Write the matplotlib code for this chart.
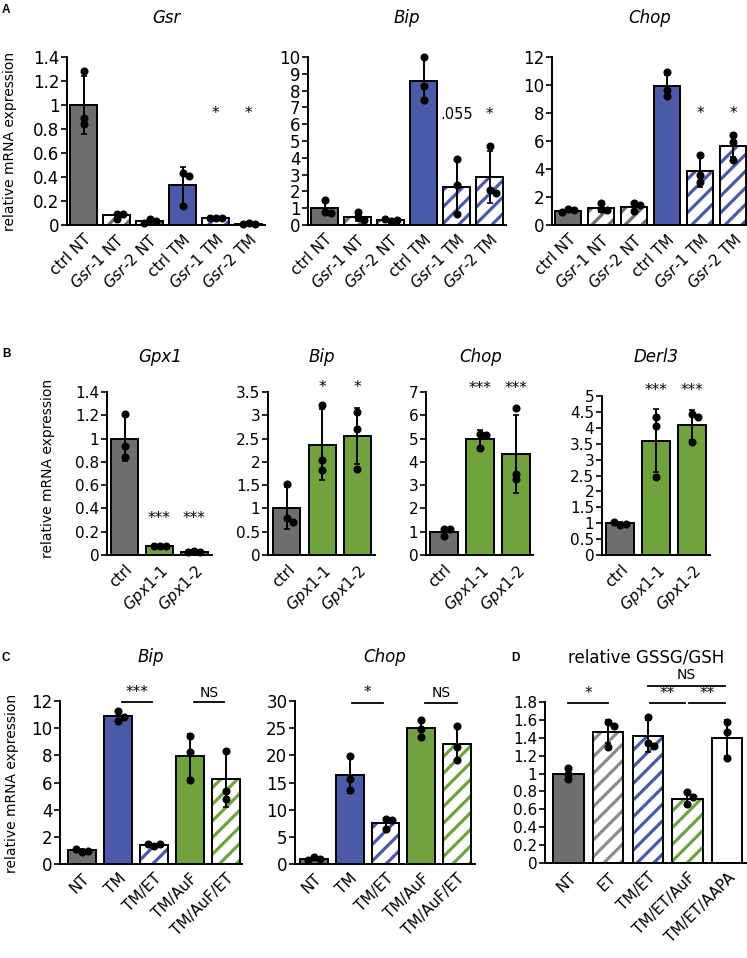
import numpy as np
import matplotlib
matplotlib.use('Agg')
import matplotlib.pyplot as plt

plt.rcParams['font.family'] = ['DejaVu Sans']
plt.rcParams['mathtext.fontset'] = 'dejavusans'
plt.rcParams['hatch.linewidth'] = 2.3

# ---------------- data ----------------
a_labels = ['ctrl NT', r'$\it{Gsr}$-1 NT', r'$\it{Gsr}$-2 NT',
            'ctrl TM', r'$\it{Gsr}$-1 TM', r'$\it{Gsr}$-2 TM']
a_styles = ['gray', 'hgray', 'hgray', 'blue', 'hblue', 'hblue']

gsr_mean = [1.00, 0.08, 0.03, 0.33, 0.06, 0.01]
gsr_sd = [0.245, 0.02, 0.02, 0.155, 0.005, 0.005]
gsr_pts = [[1.28, 0.89, 0.84], [0.095, 0.095, 0.05], [0.05, 0.03, 0.015],
           [0.43, 0.41, 0.16], [0.06, 0.06, 0.06], [0.015, 0.005, 0.01]]

bipA_mean = [1.0, 0.5, 0.3, 8.6, 2.28, 2.85]
bipA_sd = [0.37, 0.25, 0.08, 1.3, 1.58, 1.55]
bipA_pts = [[1.5, 0.75, 0.73], [0.8, 0.45, 0.3], [0.22, 0.3, 0.38],
            [10.0, 8.26, 7.43], [3.9, 2.36, 0.63], [4.7, 2.1, 1.9]]

chopA_mean = [1.0, 1.2, 1.3, 9.9, 3.85, 5.65]
chopA_sd = [0.08, 0.25, 0.3, 0.85, 1.1, 0.78]
chopA_pts = [[1.15, 1.05, 0.9], [1.55, 1.15, 1.05], [1.6, 1.45, 1.0],
             [10.9, 9.65, 9.2], [5.0, 3.55, 3.1], [6.45, 5.95, 4.65]]

b_labels = ['ctrl', r'$\it{Gpx1}$-1', r'$\it{Gpx1}$-2']
b_styles = ['gray', 'green', 'green']

gpx1_mean = [1.0, 0.075, 0.03]
gpx1_sd = [0.19, 0.005, 0.005]
gpx1_pts = [[1.21, 0.935, 0.84], [0.075, 0.078, 0.075], [0.035, 0.025, 0.03]]

bipB_mean = [1.0, 2.37, 2.55]
bipB_sd = [0.45, 0.77, 0.6]
bipB_pts = [[1.52, 0.79, 0.71], [3.23, 2.05, 1.82], [3.07, 2.7, 1.85]]

chopB_mean = [1.0, 5.0, 4.35]
chopB_sd = [0.18, 0.35, 1.68]
chopB_pts = [[1.12, 1.1, 0.8], [5.2, 5.15, 4.6], [6.3, 3.5, 3.25]]

derl3_mean = [1.0, 3.6, 4.1]
derl3_sd = [0.05, 1.0, 0.47]
derl3_pts = [[0.95, 0.98, 1.04], [4.33, 4.05, 2.45], [4.42, 4.35, 3.55]]

c_labels = ['NT', 'TM', 'TM/ET', 'TM/AuF', 'TM/AuF/ET']
c_styles = ['gray', 'blue', 'hblue', 'green', 'hgreen']

bipC_mean = [1.02, 10.9, 1.4, 7.95, 6.25]
bipC_sd = [0.1, 0.3, 0.1, 1.6, 2.05]
bipC_pts = [[0.9, 0.95, 1.12], [11.3, 10.55, 10.85], [1.3, 1.45, 1.5],
            [9.4, 8.25, 6.15], [8.35, 5.4, 4.8]]

chopC_mean = [1.0, 16.4, 7.6, 25.0, 22.0]
chopC_sd = [0.25, 3.3, 0.9, 1.5, 3.1]
chopC_pts = [[1.3, 0.9, 0.8], [19.9, 15.6, 13.6], [8.3, 8.1, 6.4],
             [26.5, 24.8, 23.4], [25.4, 21.6, 19.1]]

d_labels = ['NT', 'ET', 'TM/ET', 'TM/ET/AuF', 'TM/ET/AAPA']
d_styles = ['gray', 'hgray2', 'hblue', 'hgreen', 'white']
d_mean = [1.0, 1.47, 1.42, 0.72, 1.40]
d_sd = [0.06, 0.13, 0.18, 0.07, 0.2]
d_pts = [[1.06, 1.0, 0.935], [1.58, 1.53, 1.30], [1.63, 1.34, 1.31],
         [0.79, 0.74, 0.66], [1.58, 1.47, 1.17]]

# ---------------- style ----------------
COL = {'gray': '#6e6e6e', 'blue': '#4a5aa8', 'green': '#70a33e',
       'white': '#ffffff', 'gray2': '#8c8c8c'}

W, H = 747, 958
fig = plt.figure(figsize=(W / 100, H / 100), dpi=100)
fig.patch.set_facecolor('white')


def add_ax(left, right, top, bottom):
    return fig.add_axes([left / W, 1 - bottom / H, (right - left) / W, (bottom - top) / H])


def fmt(v):
    return ('%.2f' % v).rstrip('0').rstrip('.')


def draw(ax, labels, mean, sd, pts, styles, ymax, ystep, xlim, width=0.8,
         fs_tick=12, fs_x=11):
    n = len(mean)
    x = np.arange(n)
    ax.set_xlim(*xlim)
    ax.set_ylim(0, ymax)
    for xi, m, st in zip(x, mean, styles):
        if st.startswith('h'):
            ax.bar(xi, m, width, color='white', edgecolor=COL[st[1:]], hatch='//',
                   linewidth=0, zorder=2)
            ax.bar(xi, m, width, fill=False, edgecolor='black', linewidth=1.4, zorder=3)
        else:
            ax.bar(xi, m, width, color=COL[st], edgecolor='black', linewidth=1.4, zorder=2)
    ax.errorbar(x, mean, yerr=sd, fmt='none', ecolor='black', elinewidth=1.4,
                capsize=2.3, capthick=1.2, zorder=4, clip_on=False)
    # dots, dodged horizontally when overlapping
    t = ax.transData
    pxu = t.transform((1, 0))[0] - t.transform((0, 0))[0]
    d = 6.0
    for xi, vals in zip(x, pts):
        placed = []
        xs = []
        for v in vals:
            yp = t.transform((xi, v))[1]
            for k in [0, 1, -1, 2, -2]:
                xp = k * d
                if all((xp - a) ** 2 + (yp - b) ** 2 >= (0.85 * d) ** 2 for a, b in placed):
                    break
            placed.append((xp, yp))
            xs.append(xi + xp / pxu)
        ax.plot(xs, vals, 'o', color='black', ms=4.8, zorder=5, clip_on=False)
    yt = np.arange(0, ymax + ystep / 2, ystep)
    ax.set_yticks(yt)
    ax.set_yticklabels([fmt(v) for v in yt], fontsize=fs_tick)
    ax.set_xticks(x)
    ax.set_xticklabels(labels, rotation=45, ha='right', rotation_mode='anchor',
                       fontsize=fs_x)
    ax.tick_params(axis='y', direction='out', length=4, width=1.2, pad=1.5)
    ax.tick_params(axis='x', length=0, pad=5)
    for s in ['top', 'right']:
        ax.spines[s].set_visible(False)
    for s in ['left', 'bottom']:
        ax.spines[s].set_linewidth(1.4)
    ax.set_facecolor('none')


def stars(ax, idx, yv, s, fs=11):
    for i in idx:
        ax.text(i, yv, s, ha='center', va='center', fontsize=fs, clip_on=False)


def bracket(ax, x0, x1, yv, s, fs=11, off=7):
    ax.plot([x0, x1], [yv, yv], color='black', lw=1.3, clip_on=False)
    ax.annotate(s, xy=((x0 + x1) / 2, yv), xytext=(0, off), textcoords='offset points',
                ha='center', va='center', fontsize=fs, annotation_clip=False)


def ftext(xp, yp, s, **kw):
    fig.text(xp / W, 1 - yp / H, s, **kw)


# ---------------- panel A ----------------
axA1 = add_ax(67, 265, 57, 225)
draw(axA1, a_labels, gsr_mean, gsr_sd, gsr_pts, a_styles, 1.4, 0.2, (-0.5, 5.5))
stars(axA1, [4, 5], 0.93, '*')
axA2 = add_ax(308, 506, 57, 225)
draw(axA2, a_labels, bipA_mean, bipA_sd, bipA_pts, a_styles, 10, 1, (-0.5, 5.5))
stars(axA2, [4], 6.6, '.055', fs=10.5)
stars(axA2, [5], 6.6, '*')
axA3 = add_ax(552, 747, 57, 225)
draw(axA3, a_labels, chopA_mean, chopA_sd, chopA_pts, a_styles, 12, 2, (-0.485, 5.42))
stars(axA3, [4, 5], 7.95, '*')

for xc, t in [(166, 'Gsr'), (407, 'Bip'), (650, 'Chop')]:
    ftext(xc, 23, t, ha='center', va='baseline', fontsize=12, style='italic')
ftext(10, 141, 'relative mRNA expression', rotation=90, ha='center', va='center', fontsize=10)
ftext(2, 13, 'A', fontsize=8.5, fontweight='bold', family='Liberation Sans', va='baseline')

# ---------------- panel B ----------------
axB1 = add_ax(107, 212, 392, 555)
draw(axB1, b_labels, gpx1_mean, gpx1_sd, gpx1_pts, b_styles, 1.4, 0.2, (-0.5, 2.5), 0.77,
     fs_tick=11)
stars(axB1, [1, 2], 0.31, '***')
axB2 = add_ax(268, 375, 392, 555)
draw(axB2, b_labels, bipB_mean, bipB_sd, bipB_pts, b_styles, 3.5, 0.5, (-0.54, 2.51), 0.77,
     fs_tick=11)
stars(axB2, [1, 2], 3.59, '*')
axB3 = add_ax(426, 533, 392, 555)
draw(axB3, b_labels, chopB_mean, chopB_sd, chopB_pts, b_styles, 7, 1, (-0.49, 2.47), 0.77,
     fs_tick=11)
stars(axB3, [1, 2], 7.14, '***')
axB4 = add_ax(602, 710, 396, 555)
draw(axB4, b_labels, derl3_mean, derl3_sd, derl3_pts, b_styles, 5, 0.5, (-0.5, 2.5), 0.77,
     fs_tick=11)
stars(axB4, [1, 2], 5.18, '***')

for xc, t in [(160, 'Gpx1'), (322, 'Bip'), (481, 'Chop'), (656, 'Derl3')]:
    ftext(xc, 362, t, ha='center', va='baseline', fontsize=12, style='italic')
ftext(48, 468, 'relative mRNA expression', rotation=90, ha='center', va='center', fontsize=10)
ftext(2, 357, 'B', fontsize=8.5, fontweight='bold', family='Liberation Sans', va='baseline')

# ---------------- panel C ----------------
axC1 = add_ax(60, 242, 701, 864)
draw(axC1, c_labels, bipC_mean, bipC_sd, bipC_pts, c_styles, 12, 2, (-0.61, 4.44), 0.78)
bracket(axC1, 1.1, 1.95, 11.9, '***')
bracket(axC1, 3.1, 3.95, 11.9, 'NS', fs=10)
axC2 = add_ax(295, 475, 701, 864)
draw(axC2, c_labels, chopC_mean, chopC_sd, chopC_pts, c_styles, 30, 5, (-0.53, 4.5), 0.78)
bracket(axC2, 1.05, 1.93, 29.7, '*')
bracket(axC2, 3.1, 4.0, 29.7, 'NS', fs=10)

ftext(151, 662, 'Bip', ha='center', va='baseline', fontsize=12, style='italic')
ftext(385, 662, 'Chop', ha='center', va='baseline', fontsize=12, style='italic')
ftext(12, 783, 'relative mRNA expression', rotation=90, ha='center', va='center', fontsize=10)
ftext(2, 661, 'C', fontsize=8.5, fontweight='bold', family='Liberation Sans', va='baseline')

# ---------------- panel D ----------------
axD = add_ax(545, 747, 702, 863)
draw(axD, d_labels, d_mean, d_sd, d_pts, d_styles, 1.8, 0.2, (-0.59, 4.5), 0.77, fs_tick=11)
bracket(axD, 0.0, 1.0, 1.79, '*')
bracket(axD, 2.05, 2.95, 1.79, '**')
bracket(axD, 3.05, 3.95, 1.79, '**')
bracket(axD, 2.0, 3.95, 1.98, 'NS', fs=10, off=8)
ftext(646, 663, 'relative GSSG/GSH', ha='center', va='baseline', fontsize=12)
ftext(511, 661, 'D', fontsize=8.5, fontweight='bold', family='Liberation Sans', va='baseline')

fig.savefig('out.png', dpi=100, facecolor='white')
